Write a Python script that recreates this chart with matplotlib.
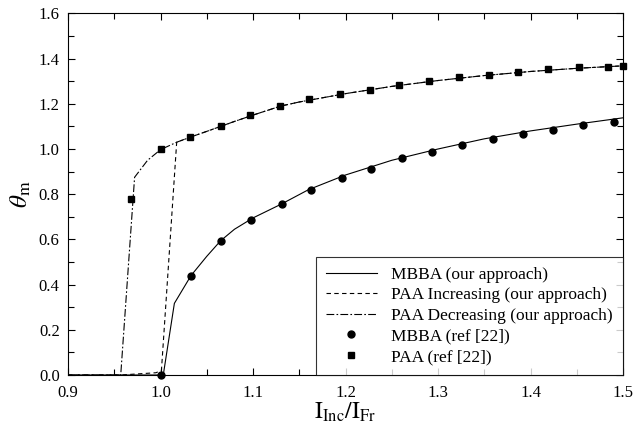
import matplotlib
matplotlib.use("Agg")
import matplotlib.pyplot as plt
from matplotlib.ticker import MultipleLocator, FormatStrFormatter

plt.rcParams['font.family'] = ['Liberation Serif', 'DejaVu Serif']
plt.rcParams['mathtext.fontset'] = 'stix'

# ---- model curves (our approach) ----
mbba_line_x = [0.9, 1.0, 1.003, 1.015, 1.033, 1.05, 1.065, 1.08, 1.1, 1.131, 1.16, 1.2, 1.25, 1.3, 1.35, 1.4, 1.45, 1.5]
mbba_line_y = [0.0, 0.0, 0.0, 0.317, 0.44, 0.525, 0.594, 0.645, 0.695, 0.757, 0.82, 0.885, 0.95, 1.0, 1.045, 1.08, 1.11, 1.138]

paa_upper_x = [1.0175, 1.032, 1.05, 1.065, 1.08, 1.1, 1.13, 1.15, 1.2, 1.25, 1.3, 1.35, 1.4, 1.45, 1.5]
paa_upper_y = [1.03, 1.052, 1.078, 1.1, 1.122, 1.15, 1.19, 1.208, 1.245, 1.277, 1.303, 1.325, 1.343, 1.357, 1.368]

paa_inc_x = [0.9, 0.957, 0.995, 1.001] + paa_upper_x
paa_inc_y = [0.0, 0.0, 0.01, 0.02] + paa_upper_y

paa_dec_x = [0.9, 0.957, 0.972, 0.986, 1.0] + paa_upper_x
paa_dec_y = [0.0, 0.0, 0.875, 0.95, 0.997] + paa_upper_y

# ---- reference data [22] ----
mbba_ref_x = [1.0, 1.033, 1.065, 1.098, 1.131, 1.163, 1.196, 1.228, 1.261, 1.294, 1.326, 1.359, 1.392, 1.424, 1.457, 1.490]
mbba_ref_y = [0.0, 0.438, 0.594, 0.687, 0.757, 0.819, 0.873, 0.912, 0.959, 0.988, 1.019, 1.043, 1.066, 1.083, 1.105, 1.119]

paa_ref_x = [0.968, 1.0, 1.032, 1.065, 1.097, 1.129, 1.161, 1.194, 1.226, 1.258, 1.290, 1.323, 1.355, 1.387, 1.419, 1.452, 1.484, 1.5]
paa_ref_y = [0.78, 1.0, 1.052, 1.103, 1.150, 1.190, 1.221, 1.242, 1.260, 1.282, 1.300, 1.317, 1.329, 1.342, 1.353, 1.361, 1.364, 1.369]

labels = ["MBBA (our approach)", "PAA Increasing (our approach)",
          "PAA Decreasing (our approach)", "MBBA (ref [22])", "PAA (ref [22])"]

fig = plt.figure(figsize=(6.35, 4.23), dpi=100)
ax = fig.add_axes([68/635, 48/423, 555/635, 361.6/423])

lw = 0.8
ax.plot(mbba_line_x, mbba_line_y, color='black', lw=lw, ls='-', label=labels[0])
ax.plot(paa_inc_x, paa_inc_y, color='black', lw=lw, ls=(0, (4, 3)), label=labels[1])
ax.plot(paa_dec_x, paa_dec_y, color='black', lw=lw, ls=(0, (7, 2, 1.5, 2)), label=labels[2])
ax.plot(mbba_ref_x, mbba_ref_y, 'o', color='black', ms=5, ls='none', label=labels[3], clip_on=False, zorder=5)
ax.plot(paa_ref_x, paa_ref_y, 's', color='black', ms=5, ls='none', label=labels[4], clip_on=False, zorder=5)

ax.set_xlim(0.9, 1.5)
ax.set_ylim(0.0, 1.6)
ax.xaxis.set_major_locator(MultipleLocator(0.1))
ax.xaxis.set_minor_locator(MultipleLocator(0.05))
ax.yaxis.set_major_locator(MultipleLocator(0.2))
ax.yaxis.set_minor_locator(MultipleLocator(0.1))
ax.xaxis.set_major_formatter(FormatStrFormatter('%.1f'))
ax.yaxis.set_major_formatter(FormatStrFormatter('%.1f'))
ax.tick_params(which='both', direction='in', top=True, right=True, labelsize=12, width=0.8)
ax.tick_params(which='major', length=5)
ax.tick_params(axis='x', which='major', pad=7)
ax.tick_params(axis='y', which='major', pad=6)
ax.tick_params(which='minor', length=4)
for s in ax.spines.values():
    s.set_linewidth(0.8)

ax.set_xlabel(r'$\mathrm{I_{Inc}/I_{Fr}}$', fontsize=17, labelpad=0)
ax.set_ylabel(r'$\theta_{\mathrm{m}}$', fontsize=18, labelpad=4)

leg = ax.legend(loc='lower right', borderaxespad=0, fontsize=12.5, frameon=True,
                fancybox=False, edgecolor='black', handlelength=2.9,
                labelspacing=0.25, borderpad=0.58, handletextpad=0.85)
leg.get_frame().set_linewidth(0.8)

fig.savefig('out.png', dpi=100)
